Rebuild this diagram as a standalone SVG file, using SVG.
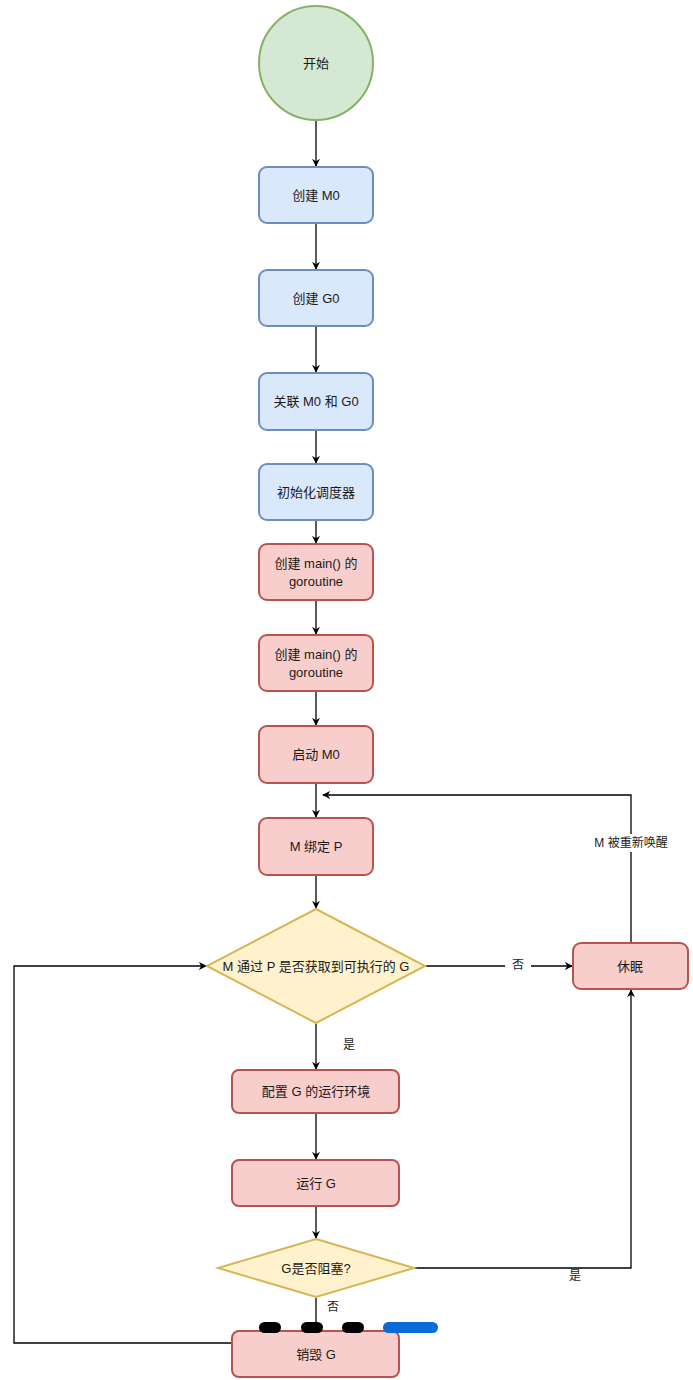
<svg xmlns="http://www.w3.org/2000/svg" width="693" height="1380" viewBox="0 0 693 1380">
<style>
text{font-family:"Liberation Sans","Noto Sans CJK SC",sans-serif;font-size:13px;fill:#1a1a1a;text-anchor:middle;dominant-baseline:central}
.blue{fill:#dae8fc;stroke:#6c8ebf;stroke-width:2}
.red{fill:#f8cecc;stroke:#b85450;stroke-width:2}
.yel{fill:#fff2cc;stroke:#d6b656;stroke-width:2}
.ln{fill:none;stroke:#000;stroke-width:1.3}
.lbl{font-size:12px}
</style>
<defs>
<marker id="ah" viewBox="0 0 10 10" refX="9" refY="5" markerWidth="8" markerHeight="8" orient="auto" markerUnits="userSpaceOnUse">
<path d="M0,0 L10,5 L0,10 L3,5 Z" fill="#000"/>
</marker>
</defs>
<rect width="693" height="1380" fill="#fff"/>
<g id="connectors">
<path class="ln" d="M316,121 V166" marker-end="url(#ah)"/>
<path class="ln" d="M316,224 V269" marker-end="url(#ah)"/>
<path class="ln" d="M316,327 V372" marker-end="url(#ah)"/>
<path class="ln" d="M316,431 V463" marker-end="url(#ah)"/>
<path class="ln" d="M316,521 V543" marker-end="url(#ah)"/>
<path class="ln" d="M316,601 V634" marker-end="url(#ah)"/>
<path class="ln" d="M316,692 V725" marker-end="url(#ah)"/>
<path class="ln" d="M316,784 V817" marker-end="url(#ah)"/>
<path class="ln" d="M316,876 V908" marker-end="url(#ah)"/>
<path class="ln" d="M426,966 H572" marker-end="url(#ah)"/>
<path class="ln" d="M631,942 V795 H323" marker-end="url(#ah)"/>
<path class="ln" d="M316,1024 V1069" marker-end="url(#ah)"/>
<path class="ln" d="M316,1114 V1159" marker-end="url(#ah)"/>
<path class="ln" d="M316,1207 V1238" marker-end="url(#ah)"/>
<path class="ln" d="M415,1268 H631 V990" marker-end="url(#ah)"/>
<path class="ln" d="M316,1298 V1330"/>
<path class="ln" d="M231,1343 H14 V966 H206" marker-end="url(#ah)"/>
<rect x="505" y="957" width="26" height="16" fill="#fff"/>
<text x="518" y="965" class="lbl">否</text>
<rect x="590" y="834" width="82" height="18" fill="#fff"/>
<text x="631" y="843" class="lbl">M 被重新唤醒</text>
<text x="349" y="1045" class="lbl">是</text>
<text x="575" y="1276" class="lbl">是</text>
<text x="333" y="1307" class="lbl">否</text>
</g>
<g id="start"><circle cx="316" cy="63" r="57" fill="#d5e8d4" stroke="#82b366" stroke-width="2"/><text x="316" y="63">开始</text></g>
<g id="createM0"><rect class="blue" x="259" y="167" width="114" height="56" rx="8"/><text x="316" y="195">创建 M0</text></g>
<g id="createG0"><rect class="blue" x="259" y="270" width="114" height="56" rx="8"/><text x="316" y="298">创建 G0</text></g>
<g id="linkM0G0"><rect class="blue" x="259" y="373" width="114" height="57" rx="8"/><text x="316" y="401">关联 M0 和 G0</text></g>
<g id="initSched"><rect class="blue" x="259" y="464" width="114" height="56" rx="8"/><text x="316" y="492">初始化调度器</text></g>
<g id="createMain1"><rect class="red" x="259" y="544" width="114" height="56" rx="8"/><text x="316" y="563">创建 main() 的</text><text x="316" y="581">goroutine</text></g>
<g id="createMain2"><rect class="red" x="259" y="635" width="114" height="56" rx="8"/><text x="316" y="654">创建 main() 的</text><text x="316" y="672">goroutine</text></g>
<g id="startM0"><rect class="red" x="259" y="726" width="114" height="57" rx="8"/><text x="316" y="754">启动 M0</text></g>
<g id="bindP"><rect class="red" x="259" y="818" width="114" height="57" rx="8"/><text x="316" y="846">M 绑定 P</text></g>
<g id="getG"><polygon class="yel" points="316,909 425,966 316,1023 207,966"/><text x="316" y="966">M 通过 P 是否获取到可执行的 G</text></g>
<g id="sleep"><rect class="red" x="573" y="943" width="115" height="46" rx="8"/><text x="630" y="966">休眠</text></g>
<g id="setupG"><rect class="red" x="232" y="1070" width="167" height="43" rx="7"/><text x="316" y="1091">配置 G 的运行环境</text></g>
<g id="runG"><rect class="red" x="232" y="1160" width="167" height="46" rx="7"/><text x="316" y="1183">运行 G</text></g>
<g id="blocked"><polygon class="yel" points="316,1239 414,1268 316,1297 218,1268"/><text x="316" y="1268">G是否阻塞?</text></g>
<g id="destroyG"><rect class="red" x="232" y="1331" width="167" height="46" rx="7"/><text x="316" y="1354">销毁 G</text></g>
<g id="marks">
<rect x="259" y="1322" width="22" height="11" rx="5.5" fill="#000"/>
<rect x="301" y="1322" width="22" height="11" rx="5.5" fill="#000"/>
<rect x="342" y="1322" width="22" height="11" rx="5.5" fill="#000"/>
<rect x="383" y="1322" width="55" height="11" rx="5.5" fill="#0a6bd8"/>
</g>
</svg>
